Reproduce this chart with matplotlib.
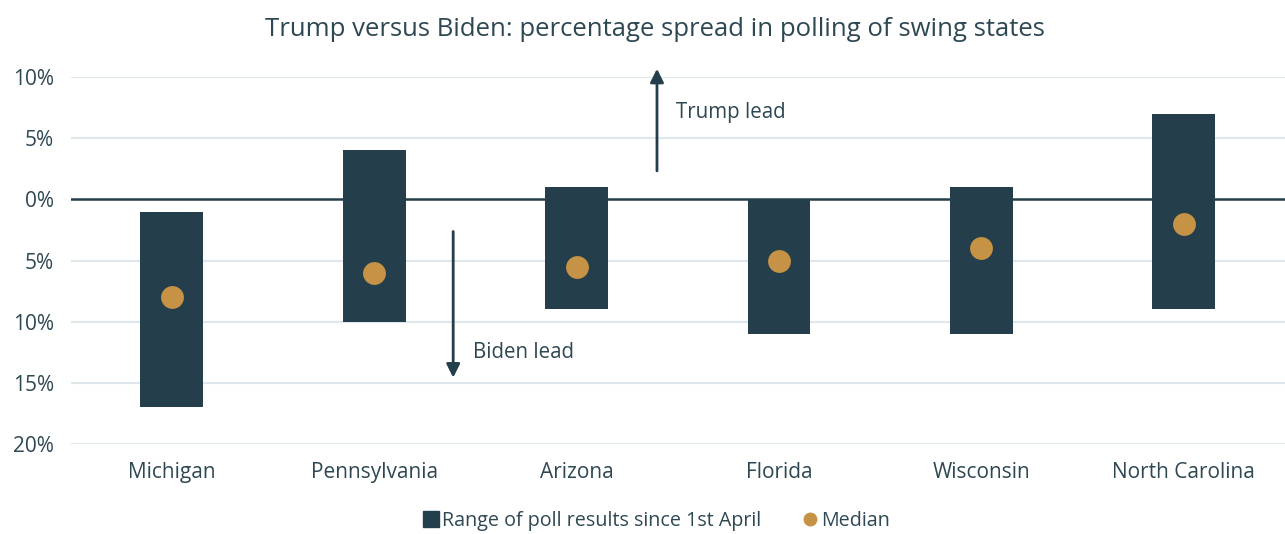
import numpy as np
import matplotlib.pyplot as plt
from matplotlib.lines import Line2D

states = ['Michigan', 'Pennsylvania', 'Arizona', 'Florida', 'Wisconsin', 'North Carolina']
low = [-17, -10, -9, -11, -11, -9]
high = [-1, 4, 1, 0, 1, 7]
median = [-8, -6, -5.5, -5, -4, -2]
yticks = [10, 5, 0, -5, -10, -15, -20]

dark = '#243f4b'
gold = '#c69245'
txt = '#2e4853'
grid = '#dde7ec'

plt.rcParams['font.family'] = ['Open Sans', 'DejaVu Sans']

fig = plt.figure(figsize=(12.85, 5.34), dpi=100)
ax = fig.add_axes([0.055, 0.1685, 0.945, 0.6873])

x = np.arange(len(states))
for yv in yticks:
    if yv != 0:
        ax.axhline(yv, color=grid, lw=1.5, zorder=0)
ax.axhline(0, color=dark, lw=1.8, zorder=1)

ax.bar(x, np.array(high) - np.array(low), bottom=low, width=0.31,
       color=dark, zorder=2)
ax.scatter(x, median, s=270, color=gold, zorder=3, linewidths=0)

ax.set_xlim(-0.5, 5.5)
ax.set_ylim(-20, 10)
ax.set_yticks(yticks)
ax.set_yticklabels([f'{abs(v)}%' for v in yticks], fontsize=15, color=txt)
ax.set_xticks(x)
ax.set_xticklabels(states, fontsize=15, color=txt)
ax.tick_params(length=0)
ax.tick_params(axis='x', pad=13)
ax.tick_params(axis='y', pad=12)
for s in ax.spines.values():
    s.set_visible(False)

# direction arrows
ax.annotate('', xy=(2.397, 10.9), xytext=(2.397, 2.1),
            arrowprops=dict(arrowstyle='-|>', color=dark, lw=2, mutation_scale=20),
            annotation_clip=False)
ax.text(2.49, 7.1, 'Trump lead', fontsize=14.8, color=txt, va='center')
ax.annotate('', xy=(1.39, -14.8), xytext=(1.39, -2.4),
            arrowprops=dict(arrowstyle='-|>', color=dark, lw=2, mutation_scale=20),
            annotation_clip=False)
ax.text(1.49, -12.5, 'Biden lead', fontsize=14.8, color=txt, va='center')

fig.text(0.51, 0.945, 'Trump versus Biden: percentage spread in polling of swing states',
         ha='center', va='center', fontsize=18.5, color=txt)

handles = [Line2D([], [], marker='s', ls='', color=dark, markersize=11),
           Line2D([], [], marker='o', ls='', color=gold, markersize=9)]
fig.legend(handles, ['Range of poll results since 1st April', 'Median'],
           loc='center', bbox_to_anchor=(0.51, 0.025), ncol=2, frameon=False,
           fontsize=14.2, labelcolor=txt, handletextpad=0.05, columnspacing=2.0,
           handlelength=1.0)

fig.savefig('out.png', dpi=100)
